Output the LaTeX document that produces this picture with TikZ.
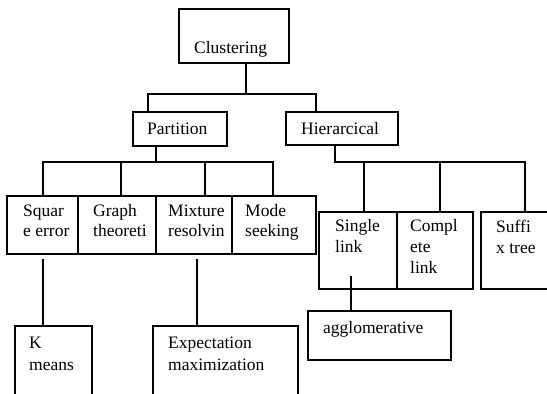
\documentclass[tikz,border=0pt]{standalone}
\usepackage{fontspec}
\setmainfont{Liberation Serif}
\newcommand{\mlines}[1]{\begin{tabular}[t]{@{}l@{}}#1\end{tabular}}
\begin{document}
\begin{tikzpicture}[x=1pt,y=1pt,
  box/.style={draw=black, line width=1.1pt, rectangle, inner sep=0pt, fill=none},
  link/.style={draw=black, line width=1.1pt},
  txt/.style={anchor=base west, inner sep=0pt, font=\fontsize{17.5}{20}\selectfont},
  txtb/.style={anchor=base west, inner sep=0pt, font=\fontsize{17.5}{21}\selectfont},
  txtc/.style={anchor=base west, inner sep=0pt, font=\fontsize{17.5}{22.5}\selectfont}]
\path[use as bounding box] (0,0) rectangle (547,-394);
\clip (0,0) rectangle (547,-394);
\fill[white] (0,0) rectangle (547,-394);
% boxes
\node[box, minimum width=110pt, minimum height=54pt] (clus) at (234,-36) {};
\node[box, minimum width=94pt, minimum height=34pt] (part) at (180,-129) {};
\node[box, minimum width=112pt, minimum height=33pt] (hier) at (342,-128.5) {};
\node[box, minimum width=71pt, minimum height=58pt] (sq) at (42.5,-225) {};
\node[box, minimum width=78pt, minimum height=58pt] (gr) at (117,-225) {};
\node[box, minimum width=76pt, minimum height=58pt] (mx) at (194,-225) {};
\node[box, minimum width=84pt, minimum height=58pt] (md) at (274,-225) {};
\node[box, minimum width=78pt, minimum height=77pt] (sl) at (358,-250.5) {};
\node[box, minimum width=76pt, minimum height=77pt] (cl) at (435,-250.5) {};
\node[box, minimum width=119pt, minimum height=77pt] (sx) at (540.5,-250.5) {};
\node[box, minimum width=77pt, minimum height=94pt] (km) at (53.5,-373) {};
\node[box, minimum width=145pt, minimum height=94pt] (ex) at (225.5,-373) {};
\node[box, minimum width=143pt, minimum height=49pt] (ag) at (379.5,-335.5) {};
% texts
\node[txt] (tclus) at (194,-53) {Clustering};
\node[txt] (tpart) at (147,-134) {Partition};
\node[txt] (thier) at (301,-134) {Hierarcical};
\node[txt] (tsq) at (23,-216) {\mlines{Squar\\e error}};
\node[txt] (tgr) at (93,-216) {\mlines{Graph\\theoreti}};
\node[txt] (tmx) at (168,-216) {\mlines{Mixture\\resolvin}};
\node[txt] (tmd) at (245,-216) {\mlines{Mode\\seeking}};
\node[txtb] (tsl) at (335,-231) {\mlines{Single\\link}};
\node[txtb] (tcl) at (410,-231) {\mlines{Compl\\ete\\link}};
\node[txtb] (tsx) at (496,-232) {\mlines{Suffi\\x tree}};
\node[txtc] (tkm) at (29,-348) {\mlines{K\\means}};
\node[txtc] (tex) at (168,-348) {\mlines{Expectation\\maximization}};
\node[txt] (tag) at (323,-333) {agglomerative};
% junction coordinates
\coordinate (j0) at (246,-94);
\coordinate (j1) at (148,-94);
\coordinate (j2) at (316,-94);
\coordinate (p0) at (156,-162);
\coordinate (p1) at (43,-162);
\coordinate (p2) at (121,-162);
\coordinate (p3) at (205,-162);
\coordinate (p4) at (273,-162);
\coordinate (h0) at (335,-162);
\coordinate (h1) at (364,-162);
\coordinate (h2) at (440,-162);
\coordinate (h3) at (525,-162);
\coordinate (s1) at (43,-259);
\coordinate (s2) at (197,-259);
\coordinate (s3) at (351,-276);
% connectors
\draw[link] (j0 |- clus.south) -- (j0);
\draw[link] (j1 |- part.north) -- (j1) -- (j2) -- (j2 |- hier.north);
\draw[link] (p0 |- part.south) -- (p0);
\draw[link] (p1 |- sq.north) -- (p1) -- (p4) -- (p4 |- md.north);
\draw[link] (p2) -- (p2 |- gr.north);
\draw[link] (p3) -- (p3 |- mx.north);
\draw[link] (h0 |- hier.south) -- (h0) -- (h3) -- (h3 |- sx.north);
\draw[link] (h1) -- (h1 |- sl.north);
\draw[link] (h2) -- (h2 |- cl.north);
\draw[link] (s1) -- (s1 |- km.north);
\draw[link] (s2) -- (s2 |- ex.north);
\draw[link] (s3) -- (s3 |- ag.north);
\end{tikzpicture}
\end{document}
